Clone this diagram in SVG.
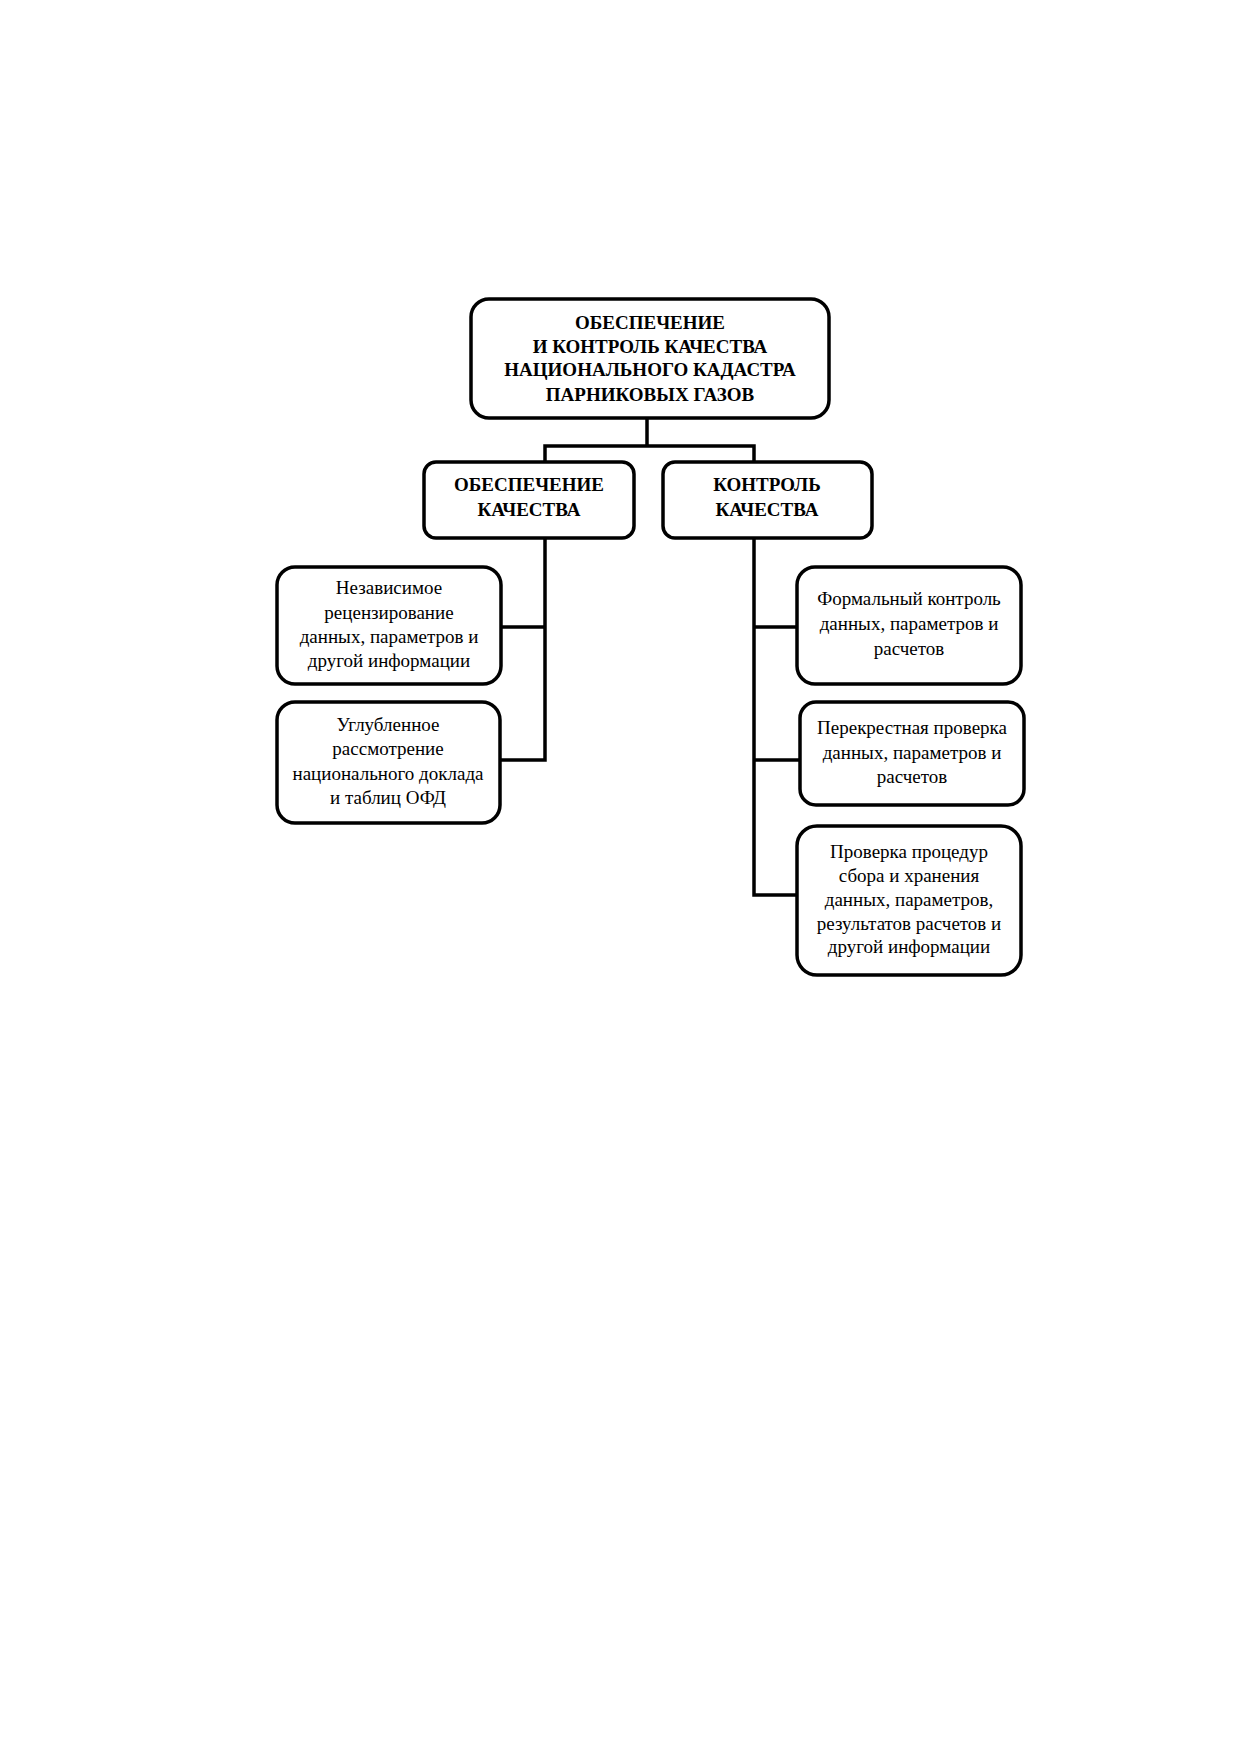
<svg xmlns="http://www.w3.org/2000/svg" width="1239" height="1754" viewBox="0 0 1239 1754">
<style>
.box{fill:#fff;stroke:#000;stroke-width:3.5}
.hd{font-family:"Liberation Serif",serif;font-weight:bold;font-size:19px;text-anchor:middle}
.tx{font-family:"Liberation Serif",serif;font-size:19px;text-anchor:middle}
.ln{fill:none;stroke:#000;stroke-width:3.5}
</style>
<rect width="1239" height="1754" fill="#fff"/>
<g id="connectors">
<path class="ln" d="M647 418V446M545 462V446H754V462"/>
<path class="ln" d="M545 538V760H500M501 627H545"/>
<path class="ln" d="M754 538V895H797M754 627H797M754 760H800"/>
</g>
<g id="root">
<rect class="box" x="471" y="299" width="358" height="119" rx="18"/>
<text class="hd" x="650" y="329">ОБЕСПЕЧЕНИЕ</text>
<text class="hd" x="650" y="353">И КОНТРОЛЬ КАЧЕСТВА</text>
<text class="hd" x="650" y="376">НАЦИОНАЛЬНОГО КАДАСТРА</text>
<text class="hd" x="650" y="401">ПАРНИКОВЫХ ГАЗОВ</text>
</g>
<g id="qa">
<rect class="box" x="424" y="462" width="210" height="76" rx="12"/>
<text class="hd" x="529" y="491">ОБЕСПЕЧЕНИЕ</text>
<text class="hd" x="529" y="516">КАЧЕСТВА</text>
</g>
<g id="qc">
<rect class="box" x="663" y="462" width="209" height="76" rx="12"/>
<text class="hd" x="767" y="491">КОНТРОЛЬ</text>
<text class="hd" x="767" y="516">КАЧЕСТВА</text>
</g>
<g id="qa1">
<rect class="box" x="277" y="567" width="224" height="117" rx="18"/>
<text class="tx" x="389" y="594">Независимое</text>
<text class="tx" x="389" y="619">рецензирование</text>
<text class="tx" x="389" y="643">данных, параметров и</text>
<text class="tx" x="389" y="667">другой информации</text>
</g>
<g id="qa2">
<rect class="box" x="277" y="702" width="223" height="121" rx="18"/>
<text class="tx" x="388" y="731">Углубленное</text>
<text class="tx" x="388" y="755">рассмотрение</text>
<text class="tx" x="388" y="780">национального доклада</text>
<text class="tx" x="388" y="804">и таблиц ОФД</text>
</g>
<g id="qc1">
<rect class="box" x="797" y="567" width="224" height="117" rx="18"/>
<text class="tx" x="909" y="605">Формальный контроль</text>
<text class="tx" x="909" y="630">данных, параметров и</text>
<text class="tx" x="909" y="655">расчетов</text>
</g>
<g id="qc2">
<rect class="box" x="800" y="702" width="224" height="103" rx="16"/>
<text class="tx" x="912" y="734">Перекрестная проверка</text>
<text class="tx" x="912" y="759">данных, параметров и</text>
<text class="tx" x="912" y="783">расчетов</text>
</g>
<g id="qc3">
<rect class="box" x="797" y="826" width="224" height="149" rx="20"/>
<text class="tx" x="909" y="858">Проверка процедур</text>
<text class="tx" x="909" y="882">сбора и хранения</text>
<text class="tx" x="909" y="906">данных, параметров,</text>
<text class="tx" x="909" y="930">результатов расчетов и</text>
<text class="tx" x="909" y="953">другой информации</text>
</g>
</svg>
